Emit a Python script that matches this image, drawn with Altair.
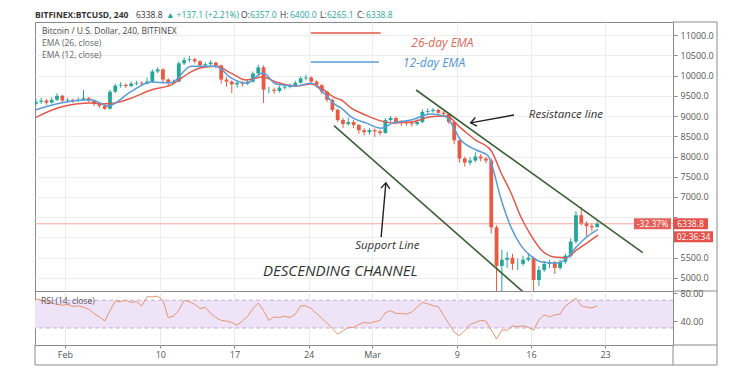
import altair as alt
import pandas as pd

# ---------------- values ----------------
# x positions are days counted from 1 Feb 2020; candles are 12-hour bars
candle_start = -3.0
candle_step = 0.5
first_open = 9300
closes = [9350, 9380, 9330, 9400, 9500, 9380, 9400, 9370, 9400, 9440,
          9380, 9300, 9250, 9180, 9600, 9750, 9770, 9740, 9800, 9820,
          9800, 9850, 10100, 10150, 9900, 9820, 9850, 10300, 10380, 10400,
          10350, 10250, 10280, 10320, 10250, 9900, 9850, 9780, 9820, 9800,
          9850, 10050, 10200, 9650, 9650, 9620, 9700, 9720, 9760, 9820,
          9930, 9950, 9850, 9760, 9600, 9400, 9150, 8900, 8800, 8850,
          8780, 8650, 8600, 8650, 8620, 8580, 8900, 8950, 8850, 8830,
          8820, 8800, 8850, 9100, 9120, 9150, 9080, 9050, 8850, 8400,
          7950, 7850, 7900, 8000, 7950, 7900, 6250, 5300, 5450, 5500,
          5350, 5350, 5450, 5500, 4950, 5200, 5350, 5380, 5250, 5400,
          5550, 5900, 6550, 6350, 6280, 6250, 6339]
highs = [9420, 9450, 9420, 9460, 9560, 9520, 9450, 9430, 9460, 9640,
         9470, 9400, 9330, 9280, 9650, 9800, 9830, 9800, 9850, 9870,
         9860, 9950, 10150, 10200, 10180, 9930, 9900, 10350, 10450, 10480,
         10440, 10380, 10330, 10380, 10340, 10270, 9960, 9880, 9870, 9860,
         9900, 10100, 10270, 10250, 9720, 9700, 9750, 9780, 9800, 9870,
         9980, 10020, 9980, 9880, 9790, 9620, 9430, 9180, 8950, 8960,
         8900, 8800, 8700, 8700, 8690, 8660, 8950, 9000, 8980, 8900,
         8880, 8860, 8920, 9160, 9180, 9200, 9180, 9120, 9070, 8870,
         8420, 8000, 7980, 8100, 8060, 7990, 7960, 6300, 5700, 5650,
         5600, 5480, 5550, 5620, 5530, 5300, 5420, 5450, 5420, 5450,
         5600, 5980, 6650, 6750, 6400, 6350, 6400]
lows = [9260, 9300, 9280, 9310, 9370, 9340, 9330, 9320, 9340, 9380,
        9330, 9250, 9200, 9150, 9160, 9560, 9700, 9690, 9710, 9760,
        9740, 9780, 9830, 10060, 9800, 9730, 9780, 9830, 10260, 10330,
        10300, 10200, 10200, 10240, 10180, 9800, 9720, 9570, 9700, 9720,
        9760, 9820, 10000, 9320, 9560, 9550, 9580, 9650, 9680, 9720,
        9800, 9880, 9800, 9700, 9540, 9350, 9100, 8850, 8700, 8760,
        8700, 8560, 8520, 8540, 8480, 8520, 8560, 8850, 8800, 8760,
        8760, 8740, 8760, 8830, 9050, 9080, 9020, 8980, 8800, 8300,
        7850, 7750, 7780, 7860, 7880, 7830, 6100, 4600, 3900, 5250,
        5200, 5200, 5300, 5400, 4450, 4800, 5150, 5250, 5100, 5200,
        5350, 5500, 5850, 6300, 6000, 6150, 6265]
rsi_values = [72, 70, 68, 66, 64, 63, 64, 61, 62, 60,
              57, 51, 46, 40, 55, 69, 68, 70, 67, 68,
              62, 75, 75, 76, 70, 45, 47, 56, 70, 68,
              64, 58, 60, 51, 45, 41, 40, 38, 34, 40,
              47, 58, 66, 55, 41, 46, 45, 47, 45, 50,
              62, 62, 58, 51, 44, 37, 29, 21, 26, 31,
              31, 35, 38, 37, 39, 41, 52, 55, 51, 51,
              50, 53, 60, 67, 65, 62, 61, 48, 36, 24,
              19, 26, 35, 38, 41, 40, 27, 14, 27, 27,
              33, 32, 33, 31, 27, 42, 49, 46, 49, 50,
              62, 67, 73, 62, 60, 59, 62]
ema_days = [-2.8, -0.38, 2.46, 4.06, 6.23, 8.12, 10.01, 11.9, 12.84, 14.26,
            15.68, 17.09, 18.7, 19.92, 21.81, 23.23, 24.17, 25.59, 26.06, 27.01,
            28.42, 29.84, 30.97, 32.67, 34.56, 35.98, 37.39, 38.81, 39.94, 40.23,
            41.17, 42.12, 43.06, 44.0, 44.95, 46.36, 47.31, 48.25, 49.2, 50.33]
ema26 = [8960, 9220, 9320, 9300, 9440, 9640, 9770, 10090, 10190, 10230,
         10060, 9890, 9960, 9840, 9740, 9790, 9690, 9440, 9400, 9200,
         9020, 8880, 8830, 8850, 8980, 9000, 8700, 8400, 8230, 8150,
         7600, 7100, 6500, 6050, 5700, 5510, 5500, 5680, 5850, 6060]
ema12 = [9150, 9320, 9400, 9250, 9600, 9840, 9820, 10230, 10230, 10230,
         9940, 9810, 10060, 9790, 9740, 9810, 9640, 9270, 9200, 8980,
         8830, 8700, 8830, 8900, 9050, 8980, 8400, 8160, 8020, 7850,
         6950, 6250, 5800, 5540, 5400, 5370, 5470, 5760, 6000, 6200]

tick_days = [0, 9, 16, 23, 29, 37, 44, 51]
tick_labels = ["Feb", "10", "17", "24", "Mar", "9", "16", "23"]
price_ticks = [5000, 5500, 6000, 6500, 7000, 7500, 8000, 8500, 9000, 9500,
               10000, 10500, 11000]
hidden_price_labels = [6000, 6500]   # covered by the price tags in the reference
rsi_ticks = [40, 80]
rsi_band = [30, 70]
x_domain = [-2.83, 57.41]
price_domain = [4679, 11321]
rsi_domain = [5.45, 83.4]

last_price = 6338.8
change_text = "-32.37%"
countdown_text = "02:36:34"

channel_id = ["resistance", "resistance", "support", "support"]
channel_day = [33.15, 54.55, 25.4, 43.34]
channel_price = [9642, 5625, 8760, 4638]
arrow_id = ["res", "res", "sup", "sup"]
arrow_day = [42.4, 38.3, 29.85, 30.3]
arrow_price = [9025, 8830, 6010, 7350]
arrow_tip_day = [38.3, 30.3]
arrow_tip_price = [8830, 7350]
arrow_tip_angle = [259, 5]

key26_days = [23.2, 29.8]
key26_price = 11050
key12_days = [23.2, 29.65]
key12_price = 10333

header_parts = ["BITFINEX:BTCUSD, 240", "6338.8", "\u25b2 +137.1 (+2.21%)", "O:", "6357.0",
                "H:", "6400.0", "L:", "6265.1", "C:", "6338.8"]
header_x = [0, 101, 131, 206, 215, 245, 255, 285, 292, 322, 331]
header_kind = ["bold", "dark", "teal", "dark", "teal", "dark", "teal", "dark", "teal", "dark", "teal"]

# ---------------- styling ----------------
UP = "#26a69a"
DOWN = "#e95a45"
RED_EMA = "#e3574a"
BLUE_EMA = "#5a9bd8"
GREEN = "#3b6135"
FRAME = "#8a8a8a"
BOX = "#e2524a"
FONT = "Open Sans"
W, H_PRICE, H_RSI = 638, 269, 54

n = len(closes)
starts = [candle_start + candle_step * i for i in range(n)]
opens = [first_open] + closes[:-1]
candles = pd.DataFrame({
    "t0": [s + 0.07 for s in starts],
    "t1": [s + 0.43 for s in starts],
    "mid": [s + 0.25 for s in starts],
    "open": opens, "close": closes, "high": highs, "low": lows,
    "rsi": rsi_values,
})
candles["dir"] = ["up" if c >= o else "down" for o, c in zip(opens, closes)]

ema_df = pd.DataFrame({"day": ema_days, "ema26": ema26, "ema12": ema12})
chan_df = pd.DataFrame({"id": channel_id, "day": channel_day, "price": channel_price})
arrow_df = pd.DataFrame({"id": arrow_id, "day": arrow_day, "price": arrow_price})
tip_df = pd.DataFrame({"day": arrow_tip_day, "price": arrow_tip_price, "angle": arrow_tip_angle})

xs = alt.Scale(domain=x_domain, nice=False, zero=False)
ys = alt.Scale(domain=price_domain, nice=False, zero=False)
rs = alt.Scale(domain=rsi_domain, nice=False, zero=False)

hide_expr = " || ".join(f"datum.value == {v}" for v in hidden_price_labels)
xa = alt.Axis(values=tick_days, labels=False, ticks=False, domain=False, grid=True,
              gridColor="#ededed", title=None)
ya = alt.Axis(orient="right", values=price_ticks, labelExpr=f"{hide_expr} ? '' : format(datum.value, '.1f')",
              grid=True, gridColor="#ededed",
              domain=False, tickSize=4, tickColor="#888", labelPadding=3, labelFontSize=9,
              labelColor="#555", labelFont=FONT, title=None)
label_expr = " : ".join(f"datum.value == {d} ? '{l}'" for d, l in zip(tick_days, tick_labels)) + " : ''"
xa2 = alt.Axis(values=tick_days, labelExpr=label_expr, grid=True, gridColor="#e8e8e8", ticks=True,
               tickSize=3, tickColor="#888", domain=False, labelPadding=2, labelFontSize=9,
               labelColor="#555", labelFont=FONT, title=None)
ra = alt.Axis(orient="right", values=rsi_ticks, format=".2f", grid=False, domain=False, tickSize=4,
              tickColor="#888", labelPadding=3, labelFontSize=9, labelColor="#555",
              labelFont=FONT, title=None)


def px(f):
    return alt.X(f, type="quantitative", scale=xs, axis=xa)


def py(f):
    return alt.Y(f, type="quantitative", scale=ys, axis=ya)


def rx(f):
    return alt.X(f, type="quantitative", scale=xs, axis=xa2)


def ry(f):
    return alt.Y(f, type="quantitative", scale=rs, axis=ra)


def one():
    return alt.Chart(pd.DataFrame({"a": [0]}))


def ptext(s, x, y, size=9, color="#555", weight="normal", style="normal", align="left"):
    return alt.Chart(pd.DataFrame({"s": [s]})).mark_text(
        align=align, baseline="middle", font=FONT, fontSize=size, color=color,
        fontWeight=weight, fontStyle=style).encode(x=alt.value(x), y=alt.value(y), text="s:N")


def dtext(s, day, price, size=12, color="#333", style="italic"):
    return alt.Chart(pd.DataFrame({"s": [s], "day": [day], "price": [price]})).mark_text(
        align="left", baseline="middle", font=FONT, fontSize=size, color=color,
        fontStyle=style).encode(x=px("day"), y=py("price"), text="s:N")


def key_line(days, price, color):
    return alt.Chart(pd.DataFrame({"d1": [days[0]], "d2": [days[1]], "price": [price]})).mark_rule(
        strokeWidth=1.6, color=color).encode(x=px("d1"), x2="d2", y=py("price"))


def hline(x1, x2, y):
    return one().mark_rule(color=FRAME, strokeWidth=1).encode(
        x=alt.value(x1), x2=alt.value(x2), y=alt.value(y))


def vline(x, y1, y2):
    return one().mark_rule(color=FRAME, strokeWidth=1).encode(
        x=alt.value(x), y=alt.value(y1), y2=alt.value(y2))


col = alt.Color("dir:N", scale=alt.Scale(domain=["up", "down"], range=[UP, DOWN]), legend=None)

# invisible spacer: reserves the header strip above the plot
spacer = one().mark_rule(opacity=0, strokeWidth=1).encode(
    x=alt.value(0), y=alt.value(-13), y2=alt.value(-2))

price_line = alt.Chart(pd.DataFrame({"price": [last_price]})).mark_rule(
    color="#f3a49d", strokeWidth=1, clip=True).encode(y=py("price"))
wicks = alt.Chart(candles).mark_rule(strokeWidth=1, clip=True).encode(
    x=px("mid"), y=py("low"), y2="high", color=col)
bodies = alt.Chart(candles).mark_bar(clip=True).encode(
    x=px("t0"), x2="t1", y=py("open"), y2="close", color=col)
ema26_line = alt.Chart(ema_df).mark_line(color=RED_EMA, strokeWidth=1.5, clip=True,
                                         interpolate="monotone").encode(x=px("day"), y=py("ema26"))
ema12_line = alt.Chart(ema_df).mark_line(color=BLUE_EMA, strokeWidth=1.5, clip=True,
                                         interpolate="monotone").encode(x=px("day"), y=py("ema12"))
channel = alt.Chart(chan_df).mark_line(color=GREEN, strokeWidth=1.6, clip=True).encode(
    x=px("day"), y=py("price"), detail="id:N")
arrows = alt.Chart(arrow_df).mark_line(color="#222", strokeWidth=1.4).encode(
    x=px("day"), y=py("price"), detail="id:N")
tips = alt.Chart(tip_df).mark_point(shape="M -0.7 0.9 L 0 0 L 0.7 0.9", filled=False,
                                    color="#222", strokeWidth=1.4, size=160, opacity=1).encode(
    x=px("day"), y=py("price"), angle=alt.Angle("angle:Q", scale=None))

box_df = pd.DataFrame({"lo": [last_price - 135], "hi": [last_price + 135], "p": [last_price],
                       "c": [change_text], "v": [f"{last_price:.1f}"], "t": [countdown_text]})
boxes = alt.Chart(box_df)
box1 = boxes.mark_rect(color=BOX, opacity=0.9).encode(x=alt.value(599), x2=alt.value(636),
                                                      y=py("lo"), y2="hi")
box2 = boxes.mark_rect(color=BOX).encode(x=alt.value(638), x2=alt.value(673), y=py("lo"), y2="hi")
box3 = boxes.mark_rect(color=BOX, yOffset=13, y2Offset=13).encode(
    x=alt.value(639), x2=alt.value(678), y=py("lo"), y2="hi")
box1_t = boxes.mark_text(color="white", fontSize=8.5, font=FONT).encode(
    x=alt.value(617.5), y=py("p"), text="c:N")
box2_t = boxes.mark_text(color="white", fontSize=8.5, font=FONT).encode(
    x=alt.value(655.5), y=py("p"), text="v:N")
box3_t = boxes.mark_text(color="white", fontSize=8.5, font=FONT, dy=13).encode(
    x=alt.value(658.5), y=py("p"), text="t:N")

header = []
for s, x, k in zip(header_parts, header_x, header_kind):
    header.append(ptext(s, x, -7, size=8.5,
                        color="#26a69a" if k == "teal" else "#333",
                        weight="bold" if k == "bold" else "normal"))

price_layers = [
    spacer, price_line, wicks, bodies, ema26_line, ema12_line, channel, arrows, tips,
    key_line(key26_days, key26_price, RED_EMA), key_line(key12_days, key12_price, BLUE_EMA),
    dtext("Resistance line", 43.8, 9025, size=11.5),
    dtext("Support Line", 27.4, 5790, size=11.5),
    dtext("DESCENDING CHANNEL", 18.7, 5170, size=15),
    dtext("26-day EMA", 32.7, 10800, size=12, color="#e06a5a"),
    dtext("12-day EMA", 31.9, 10310, size=12, color="#4f95d6"),
    ptext("Bitcoin / U.S. Dollar, 240, BITFINEX", 7, 9, size=8.5, color="#444"),
    ptext("EMA (26, close)", 7, 21, size=8.5, color="#666"),
    ptext("EMA (12, close)", 7, 33, size=8.5, color="#666"),
    box1, box2, box3, box1_t, box2_t, box3_t,
    hline(W, W + 44, 0), hline(W, W + 44, H_PRICE), vline(W + 44, 0, H_PRICE),
] + header

price_chart = alt.layer(*price_layers).properties(width=W, height=H_PRICE)

band = alt.Chart(pd.DataFrame({"lo": [rsi_band[0]], "hi": [rsi_band[1]]})).mark_rect(
    color="#efe3f8").encode(x=alt.value(0), x2=alt.value(W), y=ry("lo"), y2="hi")
band_lines = alt.Chart(pd.DataFrame({"v": rsi_band})).mark_rule(
    color="#c3acd6", strokeDash=[4, 3], strokeWidth=1).encode(y=ry("v"))
rsi_line = alt.Chart(candles).mark_line(color="#e3976f", strokeWidth=1, clip=True).encode(
    x=rx("mid"), y=ry("rsi"))

rsi_chart = alt.layer(
    band, band_lines, rsi_line,
    ptext("RSI (14, close)", 6, 10, size=8.5, color="#555"),
    hline(W, W + 44, H_RSI), hline(0, W + 44, H_RSI + 20),
    vline(0, H_RSI, H_RSI + 20), vline(W, H_RSI, H_RSI + 20), vline(W + 44, 0, H_RSI + 20),
).properties(width=W, height=H_RSI)

chart = alt.vconcat(price_chart, rsi_chart, spacing=0, bounds="flush").resolve_scale(
    y="independent", color="independent"
).properties(
    padding={"left": 26, "top": 0, "right": 2, "bottom": 2}, background="white"
).configure_view(stroke=FRAME, strokeWidth=1)

chart.save("out.html", embed_options={"renderer": "svg", "actions": False})
